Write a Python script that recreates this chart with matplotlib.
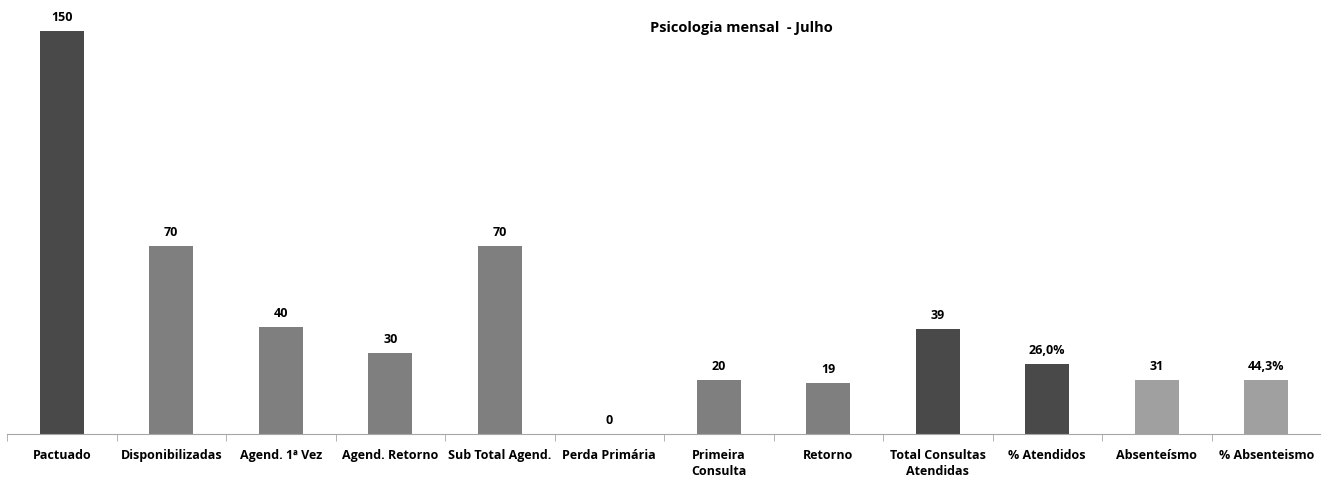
import matplotlib
matplotlib.use('Agg')
import matplotlib.pyplot as plt
import numpy as np

categories = ['Pactuado', 'Disponibilizadas', 'Agend. 1ª Vez', 'Agend. Retorno',
              'Sub Total Agend.', 'Perda Primária', 'Primeira\nConsulta', 'Retorno',
              'Total Consultas\nAtendidas', '% Atendidos', 'Absenteísmo', '% Absenteismo']
# bar heights as drawn in the original chart
heights = [150, 70, 40, 30, 70, 0, 20, 19, 39, 26, 20, 20]
# data labels shown above the bars
labels = ['150', '70', '40', '30', '70', '0', '20', '19', '39', '26,0%', '31', '44,3%']
colors = ['#494949', '#7f7f7f', '#7f7f7f', '#7f7f7f', '#7f7f7f', '#7f7f7f',
          '#7f7f7f', '#7f7f7f', '#494949', '#494949', '#a0a0a0', '#a0a0a0']

plt.rcParams['font.family'] = ['Open Sans', 'DejaVu Sans']

W, H = 1321, 479
fig = plt.figure(figsize=(W / 100, H / 100), dpi=100)
ax = fig.add_axes([7 / W, 45 / H, 1314 / W, 434 / H])

x = np.arange(len(categories))
ax.bar(x, heights, width=0.4, color=colors)

for xi, h, lab in zip(x, heights, labels):
    ax.annotate(lab, (xi, h), xytext=(0, 5), textcoords='offset points',
                ha='center', va='bottom', fontsize=9, fontweight='bold')

ax.set_xlim(-0.5, len(categories) - 0.5)
ax.set_ylim(0, 161.5)

for s in ['top', 'right', 'left']:
    ax.spines[s].set_visible(False)
ax.spines['bottom'].set_color('#a6a6a6')
ax.set_yticks([])

ax.set_xticks(x)
ax.set_xticklabels(categories, fontsize=9, fontweight='bold', linespacing=1.3)
ax.tick_params(axis='x', which='major', length=0, pad=11)
ax.set_xticks(np.arange(len(categories)) - 0.5, minor=True)
ax.tick_params(axis='x', which='minor', length=5, color='#a6a6a6')

fig.text(741 / W, 1 - 28 / H, 'Psicologia mensal  - Julho', ha='center', va='center',
         fontsize=10.5, fontweight='bold')

fig.savefig('out.png', dpi=100)
